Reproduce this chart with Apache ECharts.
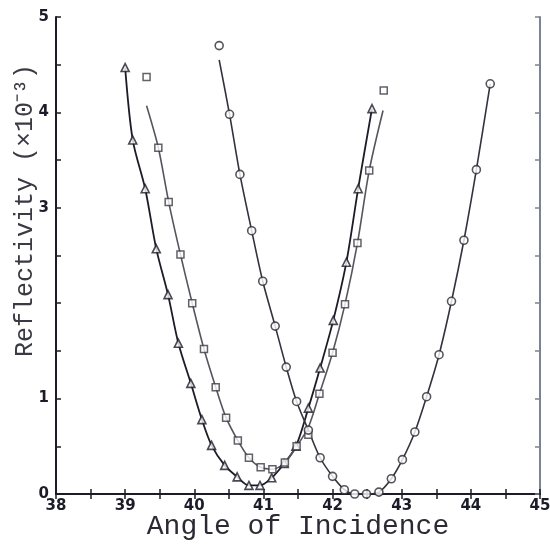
<!DOCTYPE html>
<html>
<head>
<meta charset="utf-8">
<script src="https://cdn.jsdelivr.net/npm/echarts@6/dist/echarts.min.js"></script>
<style>html,body{margin:0;padding:0;background:#fff;}#c{width:550px;height:546px;}</style>
</head>
<body>
<div id="c"></div>
<script>
// Data (x: angle of incidence, y: reflectivity x10^-3)
var triX = [39.0, 39.11, 39.29, 39.45, 39.62, 39.77, 39.95, 40.11, 40.25, 40.44, 40.62, 40.79, 40.95, 41.12, 41.30, 41.47, 41.65, 41.82, 42.01, 42.20, 42.37, 42.57];
var triY = [4.47, 3.71, 3.20, 2.57, 2.09, 1.58, 1.16, 0.78, 0.51, 0.30, 0.18, 0.09, 0.09, 0.17, 0.32, 0.50, 0.90, 1.32, 1.82, 2.43, 3.20, 4.04];

var sqX = [39.31, 39.48, 39.63, 39.80, 39.97, 40.14, 40.31, 40.46, 40.63, 40.79, 40.96, 41.13, 41.31, 41.48, 41.65, 41.81, 42.00, 42.18, 42.36, 42.53, 42.74];
var sqY = [4.37, 3.63, 3.06, 2.51, 2.00, 1.52, 1.12, 0.80, 0.56, 0.38, 0.28, 0.26, 0.33, 0.50, 0.62, 1.05, 1.48, 1.99, 2.63, 3.39, 4.23];
var sqFitX = [39.31, 39.48, 39.63, 39.80, 39.97, 40.14, 40.31, 40.46, 40.63, 40.79, 40.96, 41.13, 41.31, 41.48, 41.65, 41.81, 42.00, 42.18, 42.36, 42.53, 42.73];
var sqFitY = [4.07, 3.63, 3.06, 2.51, 2.00, 1.52, 1.12, 0.80, 0.56, 0.38, 0.28, 0.26, 0.33, 0.50, 0.70, 1.05, 1.48, 1.99, 2.63, 3.39, 4.02];

var cirX = [40.36, 40.51, 40.66, 40.83, 40.99, 41.17, 41.33, 41.48, 41.65, 41.82, 42.00, 42.17, 42.32, 42.49, 42.67, 42.85, 43.01, 43.19, 43.36, 43.54, 43.72, 43.90, 44.08, 44.28];
var cirY = [4.70, 3.98, 3.35, 2.76, 2.23, 1.76, 1.33, 0.97, 0.67, 0.38, 0.185, 0.045, 0.0, 0.0, 0.02, 0.16, 0.36, 0.65, 1.02, 1.46, 2.02, 2.66, 3.40, 4.30];
var cirFitX = [40.36, 40.51, 40.66, 40.83, 40.99, 41.17, 41.33, 41.48, 41.65, 41.82, 42.00, 42.17, 42.32, 42.49, 42.67, 42.85, 43.01, 43.19, 43.36, 43.54, 43.72, 43.90, 44.08, 44.28];
var cirFitY = [4.55, 3.98, 3.35, 2.76, 2.23, 1.76, 1.33, 0.97, 0.67, 0.38, 0.185, 0.045, 0.0, 0.0, 0.02, 0.16, 0.36, 0.65, 1.02, 1.46, 2.02, 2.66, 3.40, 4.30];

var xTickLabels = ['38', '39', '40', '41', '42', '43', '44', '45'];
var yTickLabels = ['0', '1', '', '3', '4', '5'];

function zip(a, b) { return a.map(function (v, i) { return [v, b[i]]; }); }

var ink = '#1c1c28';
var chart = echarts.init(document.getElementById('c'), null, { renderer: 'canvas' });

var tickLabelStyle = { color: ink, fontFamily: 'DejaVu Sans', fontWeight: 'bold', fontSize: 15 };

chart.setOption({
  animation: false,
  backgroundColor: '#ffffff',
  grid: { left: 56, right: 10, top: 17, bottom: 52, containLabel: false, outerBoundsMode: 'none' },
  xAxis: [{
    type: 'value', min: 38, max: 45, interval: 0.5, position: 'bottom',
    axisLine: { lineStyle: { color: ink, width: 2 } },
    axisTick: { inside: true, length: 5, lineStyle: { color: ink, width: 1.5 } },
    splitLine: { show: false },
    axisLabel: Object.assign({ margin: 5, formatter: function (v) {
      return Number.isInteger(v) ? xTickLabels[v - 38] : '';
    } }, tickLabelStyle),
    name: 'Angle of Incidence', nameLocation: 'middle', nameGap: 19, nameMoveOverlap: false,
    nameTextStyle: { color: '#2a2a33', fontFamily: 'Liberation Mono', fontSize: 28, verticalAlign: 'top' }
  }, {
    type: 'value', min: 38, max: 45, interval: 0.5, position: 'top',
    axisLine: { lineStyle: { color: ink, width: 2 } },
    axisTick: { inside: true, length: 5, lineStyle: { color: ink, width: 1.5 } },
    axisLabel: { show: false }, splitLine: { show: false }
  }],
  yAxis: [{
    type: 'value', min: 0, max: 5, interval: 0.5, position: 'left',
    axisLine: { show: true, lineStyle: { color: ink, width: 2 } },
    axisTick: { show: true, inside: true, length: 5, lineStyle: { color: ink, width: 1.5 } },
    splitLine: { show: false },
    axisLabel: Object.assign({ margin: 7, formatter: function (v) {
      return Number.isInteger(v) ? yTickLabels[v] : '';
    } }, tickLabelStyle),
    name: 'Reflectivity (×10⁻³)', nameLocation: 'middle', nameGap: 18, nameRotate: 90, nameMoveOverlap: false,
    nameTextStyle: { color: '#3a3a44', fontFamily: 'Liberation Mono', fontSize: 25, padding: [0, 0, 0, 90], verticalAlign: 'bottom' }
  }, {
    type: 'value', min: 0, max: 5, interval: 0.5, position: 'right',
    axisLine: { show: true, lineStyle: { color: '#7a8593', width: 2 } },
    axisTick: { show: true, inside: true, length: 5, lineStyle: { color: '#7a8593', width: 1.5 } },
    axisLabel: { show: false }, splitLine: { show: false }
  }],
  series: [
    { type: 'line', data: zip(triX, triY), smooth: 0.3, showSymbol: false, silent: true,
      lineStyle: { color: ink, width: 1.8 }, z: 2 },
    { type: 'scatter', data: zip(triX, triY), symbol: 'triangle', symbolSize: 8,
      itemStyle: { color: '#ffffff', borderColor: ink, borderWidth: 1.6 }, z: 3 },
    { type: 'line', data: zip(sqFitX, sqFitY), smooth: 0.3, showSymbol: false, silent: true,
      lineStyle: { color: '#55555e', width: 1.6 }, z: 2 },
    { type: 'scatter', data: zip(sqX, sqY), symbol: 'rect', symbolSize: 7,
      itemStyle: { color: '#ffffff', borderColor: '#3a3a44', borderWidth: 1.5 }, z: 3 },
    { type: 'line', data: zip(cirFitX, cirFitY), smooth: 0.3, showSymbol: false, silent: true,
      lineStyle: { color: '#33333d', width: 1.6 }, z: 2 },
    { type: 'scatter', data: zip(cirX, cirY), symbol: 'circle', symbolSize: 8,
      itemStyle: { color: '#ffffff', borderColor: '#2a2a33', borderWidth: 1.6 }, z: 3 }
  ]
});
</script>
</body>
</html>
